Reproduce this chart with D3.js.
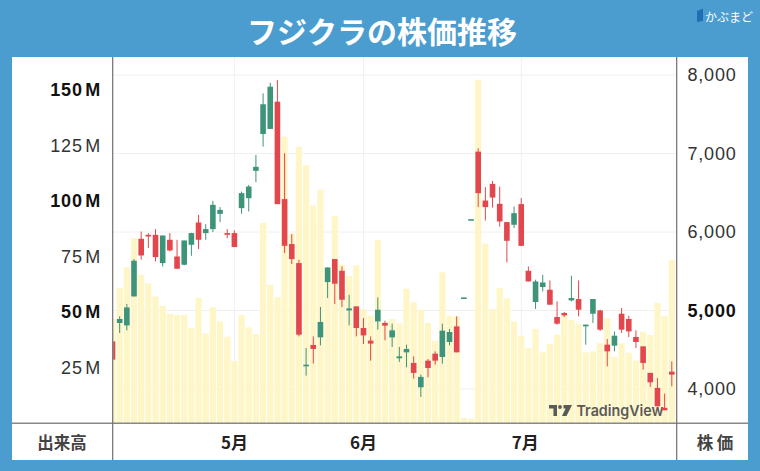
<!DOCTYPE html>
<html><head><meta charset="utf-8">
<script src="https://cdn.jsdelivr.net/npm/d3@7"></script>
<style>
html,body{margin:0;padding:0;background:#4b9dd0;}
svg{display:block;}
</style></head>
<body>
<svg id="c" width="760" height="471"></svg>
<script>
// ---- data (prices in JPY, volume in millions of shares) ----
const opens  = [4607,4841,4810,5179,5913,5964,5964,5604,5901,5688,5583,5837,6121,5986,6037,6231,5986,5986,6304,6431,
                6779,7249,7313,7660,6419,5846,5604,4289,4561,4658,5362,5655,5506,5001,5052,4777,4616,4861,4841,4658,
                4391,4467,4332,4022,4361,4450,4408,4599,4798,5167,6164,7024,6401,6613,6359,6126,6092,6355,5506,5108,
                5299,5265,4917,4968,5129,5146,4798,4959,5001,4565,4552,4959,4892,4663,4543,4205,4014,3760,4221];
const highs  = [4640,4925,5083,5655,6006,5986,6037,5955,5986,5901,5892,5990,6219,6100,6397,6317,6037,6020,6515,6600,
                6982,7767,7902,7936,7004,5973,5646,4523,4670,5045,5548,5655,5561,5201,5052,4905,4670,5167,4870,4832,
                4536,4565,4416,4183,4383,4480,4832,4765,4925,5167,6164,7067,6571,6651,6579,6126,6325,6431,5561,5392,
                5455,5383,5116,4981,5443,5383,4820,5146,5010,4637,4734,5032,4934,4747,4543,4205,4141,3941,4352];
const lows   = [4350,4713,4747,5179,5646,5795,5625,5561,5752,5532,5574,5697,5782,5901,5999,6126,5922,5808,6232,6261,
                6635,7088,7313,6355,5732,5592,4671,4170,4323,4556,5159,5083,5044,4810,4670,4574,4361,4756,4620,4536,
                4345,4276,4132,3899,4149,4310,4323,4556,4467,5167,6164,6317,6146,6312,6070,5612,6050,5820,5370,5019,
                5243,5074,4819,4917,5116,4925,4565,4841,4740,4289,4480,4714,4663,4523,4247,4027,3780,3729,4034];
const closes = [4374,4892,5039,5634,5701,5943,5681,5955,5765,5532,5892,5986,5901,6037,6346,6282,5964,5808,6495,6579,
                6830,7627,7851,6355,5824,5655,4692,4310,4510,4854,5548,5341,5137,5027,4777,4683,4578,5010,4807,4747,
                4416,4510,4205,4154,4268,4361,4743,4726,4467,5167,6164,6495,6317,6439,6134,5888,6240,5824,5370,5370,
                5357,5074,4832,4938,5159,5010,4820,5146,4756,4480,4679,4756,4734,4599,4332,4085,3780,3729,4183];
const volumes = [47.0,61.0,70.3,83.4,67.0,63.1,57.1,52.9,49.3,48.8,48.9,42.8,56.6,40.5,52.3,45.9,39.0,28.1,48.8,43.2,
                 40.3,90.2,62.4,56.8,129.0,85.4,124.5,116.1,98.1,105.2,70.3,93.2,71.5,66.3,71.1,51.5,48.5,82.4,45.5,47.0,
                 45.0,60.6,54.5,51.1,45.2,37.2,68.0,48.5,48.2,2.6,2.2,154.6,80.9,51.5,61.0,56.3,45.9,39.5,33.9,42.5,
                 32.0,35.7,39.9,48.9,46.6,44.8,32.0,32.4,36.1,47.3,30.0,36.0,31.8,28.3,41.3,39.8,54.3,48.4,73.5];
const monthLabels = ["5月","6月","7月"];
const monthIndex  = [17,35,57];
const volTicks    = [25,50,75,100,125,150];
const volBold     = [50,100,150];
const priceTicks  = [4000,5000,6000,7000,8000];
const priceBold   = [5000];
const title = "フジクラの株価推移";

// ---- layout ----
const svg = d3.select("#c");
const L = 112.7, R = 676.7, T = 57, B = 423.3;
const n = opens.length;
const x = d3.scaleLinear().domain([0, n-1]).range([112.5, 671.8]);
const step = x(1) - x(0);
const yP = d3.scaleLinear().domain([4000, 8000]).range([389, 75]);
const yV = d3.scaleLinear().domain([0, 150]).range([423.5, 90]);
const UP = "#3e9479", DOWN = "#e2474d";

// background
svg.append("rect").attr("width",760).attr("height",471).attr("fill","#4b9dd0");
svg.append("rect").attr("x",12).attr("y",T).attr("width",736).attr("height",460-T).attr("fill","#fff");

// title
svg.append("text").attr("x",382).attr("y",30).attr("text-anchor","middle").attr("dominant-baseline","central")
  .attr("font-family","'Noto Sans CJK JP'").attr("font-weight",700).attr("font-size",30).attr("fill","#fff").text(title);
// brand logo
svg.append("path").attr("d","M697,11 L703,8.5 L703,21 L697,22 Z").attr("fill","#1f6fb5");
svg.append("text").attr("x",705).attr("y",16).attr("dominant-baseline","central")
  .attr("font-family","'Noto Sans CJK JP'").attr("font-size",12).attr("fill","#fff").text("かぶまど");

// chart clip
svg.append("defs").append("clipPath").attr("id","clip").append("rect")
  .attr("x",L+0.5).attr("y",T).attr("width",R-L-1).attr("height",B-T);
const g = svg.append("g").attr("clip-path","url(#clip)");

// grid
g.selectAll(".hg").data(priceTicks).join("line")
  .attr("x1",L).attr("x2",R).attr("y1",d=>yP(d)).attr("y2",d=>yP(d))
  .attr("stroke","#f0f0f0").attr("stroke-width",1);
g.selectAll(".vg").data(monthIndex).join("line")
  .attr("x1",d=>x(d)).attr("x2",d=>x(d)).attr("y1",T).attr("y2",B)
  .attr("stroke","#f0f0f0").attr("stroke-width",1);

// volume bars
g.selectAll(".vol").data(volumes).join("rect")
  .attr("x",(d,i)=>x(i)-(step-1)/2).attr("width",step-1)
  .attr("y",d=>yV(d)).attr("height",d=>yV(0)-yV(d))
  .attr("fill","#fef6c6");

// watermark
const wm = g.append("g").attr("fill","#5a5a5a");
wm.append("path").attr("d","M549,405 L557,405 L557,416 L553.4,416 L553.4,408.6 L549,408.6 Z");
wm.append("circle").attr("cx",560).attr("cy",407).attr("r",1.9);
wm.append("path").attr("d","M563.5,405 L572,405 L566.5,416 L562,416 L565.6,408.6 L563.5,408.6 Z");
wm.append("text").attr("x",576.5).attr("y",416).attr("font-family","Inter, 'Open Sans', sans-serif")
  .attr("font-weight",600).attr("font-size",15).attr("textLength",87).attr("lengthAdjust","spacingAndGlyphs")
  .text("TradingView");

// candles
const idx = d3.range(n);
const col = i => closes[i] >= opens[i] ? UP : DOWN;
g.selectAll(".wick").data(idx).join("line")
  .attr("x1",i=>x(i)).attr("x2",i=>x(i)).attr("y1",i=>yP(highs[i])).attr("y2",i=>yP(lows[i]))
  .attr("stroke",col).attr("stroke-width",1);
const bw = 5.6;
g.selectAll(".body").data(idx).join("rect")
  .attr("x",i=>x(i)-bw/2).attr("width",bw)
  .attr("y",i=>Math.min(yP(opens[i]),yP(closes[i])))
  .attr("height",i=>Math.max(1.6,Math.abs(yP(opens[i])-yP(closes[i]))))
  .attr("fill",col);

// frame lines
svg.append("line").attr("x1",12).attr("x2",748).attr("y1",B).attr("y2",B).attr("stroke","#888").attr("stroke-width",1.5);
svg.append("line").attr("x1",L).attr("x2",L).attr("y1",T).attr("y2",460).attr("stroke","#6f6f6f").attr("stroke-width",1.2);
svg.append("line").attr("x1",R).attr("x2",R).attr("y1",T).attr("y2",460).attr("stroke","#6f6f6f").attr("stroke-width",1.2);

// left volume axis labels
const vl = svg.selectAll(".vl").data(volTicks).join("text")
  .attr("x",101).attr("y",d=>yV(d)).attr("text-anchor","end").attr("dominant-baseline","central")
  .attr("font-family","'Liberation Sans', Arial, sans-serif").attr("font-size",18)
  .attr("letter-spacing",0.8)
  .attr("font-weight",d=>volBold.includes(d)?700:400)
  .attr("fill",d=>volBold.includes(d)?"#111":"#333");
vl.append("tspan").text(d=>String(d));
vl.append("tspan").attr("dx",2.5).text("M");

// right price axis labels
svg.selectAll(".pl").data(priceTicks).join("text")
  .attr("x",712).attr("y",d=>yP(d)).attr("text-anchor","middle").attr("dominant-baseline","central")
  .attr("font-family","'Liberation Sans', Arial, sans-serif").attr("font-size",18)
  .attr("letter-spacing",0.8)
  .attr("font-weight",d=>priceBold.includes(d)?700:400)
  .attr("fill",d=>priceBold.includes(d)?"#111":"#333")
  .text(d=>d3.format(",")(d));

// month labels
svg.selectAll(".ml").data(monthIndex).join("text")
  .attr("x",(d,i)=>x(d)+(i===2?4:0)).attr("y",441.5).attr("text-anchor","middle").attr("dominant-baseline","central")
  .attr("font-family","'Noto Sans CJK JP'").attr("font-weight",700).attr("font-size",17).attr("fill","#222")
  .text((d,i)=>monthLabels[i]);

svg.append("text").attr("x",62).attr("y",441.5).attr("text-anchor","middle").attr("dominant-baseline","central")
  .attr("font-family","'Noto Sans CJK JP'").attr("font-weight",700).attr("font-size",16.5).attr("fill","#444").text("出来高");
svg.append("text").attr("x",715).attr("y",441.5).attr("text-anchor","middle").attr("dominant-baseline","central")
  .attr("font-family","'Noto Sans CJK JP'").attr("font-weight",700).attr("font-size",16.5).attr("fill","#444").text("株 価");
</script>
</body></html>
